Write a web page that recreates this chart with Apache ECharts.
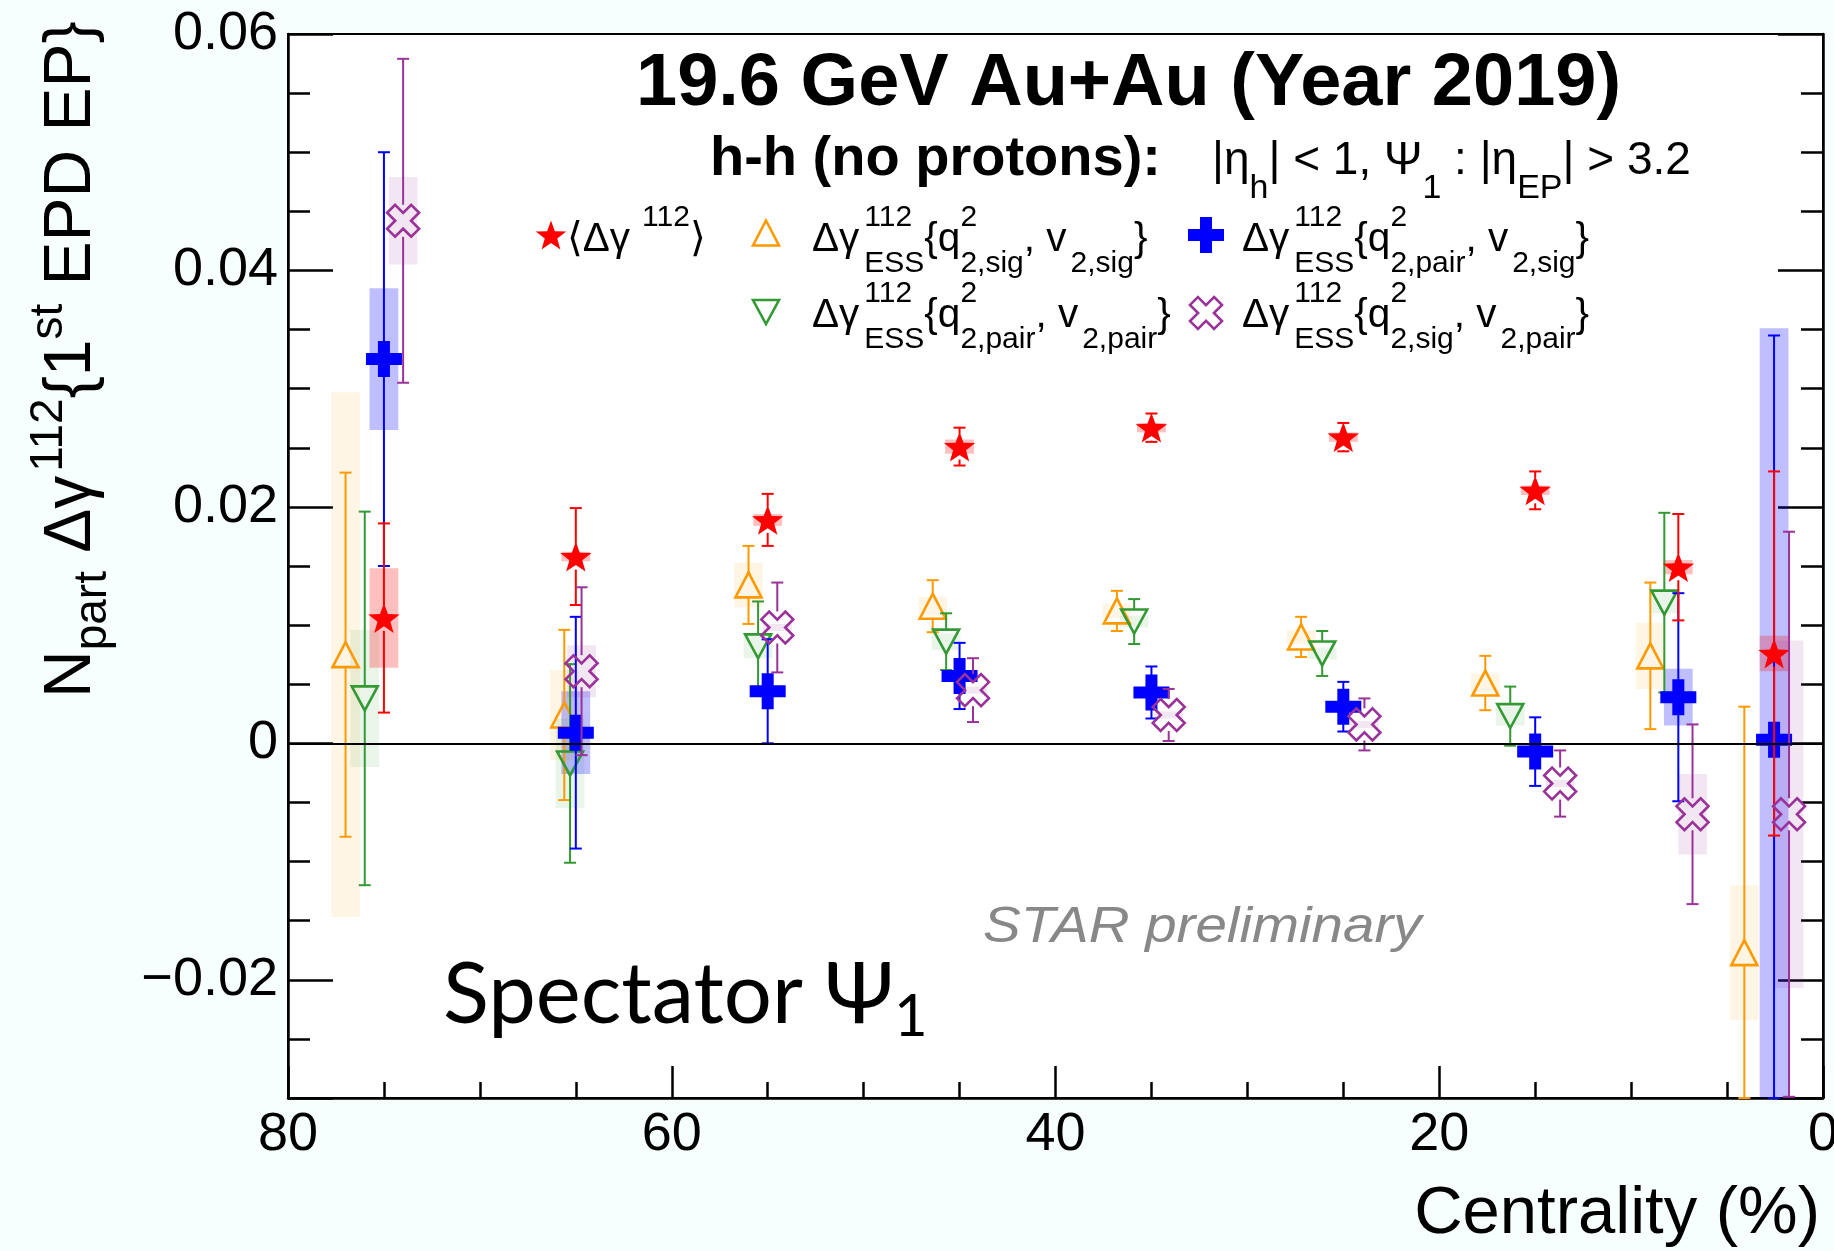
<!DOCTYPE html>
<html>
<head>
<meta charset="utf-8">
<title>STAR 19.6 GeV Au+Au — N_part Δγ112 vs centrality</title>
<script src="https://cdn.jsdelivr.net/npm/echarts@6/dist/echarts.min.js"></script>
<style>
  html, body { margin: 0; padding: 0; background: #f7fefe; }
  #chart { width: 1834px; height: 1251px; }
</style>
</head>
<body>
<div id="chart"></div>
<script>
// ---------------------------------------------------------------
// Data: centrality position (%), value, stat. error, syst. error
// ---------------------------------------------------------------

// <Δγ112> (inclusive)
const inclX    = [2.55, 7.54, 15, 25, 35, 45, 55, 65, 75];
const inclY    = [0.0076, 0.0149, 0.0214, 0.0259, 0.0267, 0.0251, 0.0189, 0.0158, 0.0106];
const inclStat = [0.0154, 0.0045, 0.0016, 0.0012, 0.0012, 0.0016, 0.0022, 0.0041, 0.0080];
const inclSys  = [0.0015, 0.0006, 0.0004, 0.0004, 0.0004, 0.0006, 0.0005, 0.0004, 0.0042];

// Δγ112_ESS{q2_2,sig, v2,sig}
const sigSigX    = [4.1, 9.0, 17.6, 27.2, 36.8, 46.4, 56.0, 65.6, 77.0];
const sigSigY    = [-0.0177, 0.0074, 0.0051, 0.0090, 0.0112, 0.0116, 0.0134, 0.0024, 0.0075];
const sigSigStat = [0.0208, 0.0062, 0.0023, 0.0017, 0.0017, 0.0022, 0.0033, 0.0072, 0.0154];
const sigSigSys  = [0.0057, 0.0028, 0.0008, 0.0006, 0.0006, 0.0008, 0.0019, 0.0038, 0.0222];

// Δγ112_ESS{q2_2,pair, v2,pair}
const pairPairX    = [8.27, 16.3, 26.1, 35.9, 45.7, 55.5, 65.3, 76.0];
const pairPairY    = [0.0119, 0.0023, 0.0076, 0.0103, 0.0086, 0.0082, -0.0017, 0.0038];
const pairPairStat = [0.0076, 0.0025, 0.0019, 0.0019, 0.0024, 0.0038, 0.0084, 0.0158];
const pairPairSys  = [0.0009, 0.0008, 0.0005, 0.0005, 0.0007, 0.0010, 0.0038, 0.0058];

// Δγ112_ESS{q2_2,pair, v2,sig}
const pairSigX    = [2.55, 7.54, 15, 25, 35, 45, 55, 65, 75];
const pairSigY    = [0.0003, 0.0039, -0.0007, 0.0031, 0.0043, 0.0057, 0.0044, 0.0009, 0.0325];
const pairSigStat = [0.0342, 0.0088, 0.0029, 0.0021, 0.0022, 0.0028, 0.0044, 0.0098, 0.0175];
const pairSigSys  = [0.0348, 0.0024, 0.0003, 0.0003, 0.0003, 0.0003, 0.0003, 0.0035, 0.0060];

// Δγ112_ESS{q2_2,sig, v2,pair}
const sigPairX    = [1.77, 6.8, 13.7, 23.9, 34.1, 44.3, 54.5, 64.7, 74.0];
const sigPairY    = [-0.0060, -0.0060, -0.0034, 0.0016, 0.0024, 0.0045, 0.0098, 0.0061, 0.0442];
const sigPairStat = [0.0239, 0.0076, 0.0028, 0.0022, 0.0022, 0.0027, 0.0038, 0.0071, 0.0137];
const sigPairSys  = [0.0147, 0.0034, 0.0003, 0.0003, 0.0003, 0.0003, 0.0003, 0.0022, 0.0037];

// Axis ranges and tick steps
const X_MIN = 0, X_MAX = 80, X_MINOR = 5, X_MAJOR = 20;
const Y_MIN = -0.03, Y_MAX = 0.06, Y_MINOR = 0.005, Y_MAJOR = 0.02;

// ---------------------------------------------------------------
// Styling
// ---------------------------------------------------------------
const SANS = '"Liberation Sans", Arial, Helvetica, "DejaVu Sans", sans-serif';
const HUMANIST = 'Lato, "Open Sans", "Noto Sans", "DejaVu Sans", sans-serif';
const BOX_HALF_WIDTH = 0.75;   // systematic box half width, in centrality units
const CAP = 6;                 // error bar cap half width, px

const C_RED = '#ff0000', C_ORANGE = '#ff9900', C_GREEN = '#339933', C_BLUE = '#0000ff', C_PURPLE = '#993399';

// ---------------------------------------------------------------
// Marker shapes (pixel geometry around a centre)
// ---------------------------------------------------------------
function starShape(cx, cy, color, R) {
  R = R || 16.5;
  const r = R * 0.41, pts = [];
  const oy = cy + 0.0955 * R;   // centre the bounding box on the point
  for (let i = 0; i < 10; i++) {
    const a = -Math.PI / 2 + i * Math.PI / 5, rr = (i % 2) ? r : R;
    pts.push([cx + rr * Math.cos(a), oy + rr * Math.sin(a)]);
  }
  return { type: 'polygon', shape: { points: pts }, style: { fill: color } };
}
function triUpShape(cx, cy, color) {
  const w = 26, h = 25;
  return { type: 'polygon', shape: { points: [[cx, cy - h / 2], [cx + w / 2, cy + h / 2], [cx - w / 2, cy + h / 2]] },
           style: { fill: 'none', stroke: color, lineWidth: 2.6, lineJoin: 'miter' } };
}
function triDownShape(cx, cy, color) {
  const w = 26, h = 24;
  return { type: 'polygon', shape: { points: [[cx - w / 2, cy - h / 2], [cx + w / 2, cy - h / 2], [cx, cy + h / 2]] },
           style: { fill: 'none', stroke: color, lineWidth: 2.6, lineJoin: 'miter' } };
}
function crossPts(a, L) {
  return [[-a, -L], [a, -L], [a, -a], [L, -a], [L, a], [a, a], [a, L], [-a, L], [-a, a], [-L, a], [-L, -a], [-a, -a]];
}
function plusShape(cx, cy, color) {
  const pts = crossPts(6, 18).map(p => [cx + p[0], cy + p[1]]);
  return { type: 'polygon', shape: { points: pts }, style: { fill: color } };
}
function openXShape(cx, cy, color) {
  const s = Math.SQRT1_2;
  const pts = crossPts(5.6, 17).map(p => [cx + (p[0] - p[1]) * s, cy + (p[0] + p[1]) * s]);
  return { type: 'polygon', shape: { points: pts }, style: { fill: 'none', stroke: color, lineWidth: 2.6, lineJoin: 'miter' } };
}

const MARK = {
  star:  { shape: starShape,    half: 13 },
  up:    { shape: triUpShape,   half: 12.5 },
  down:  { shape: triDownShape, half: 12 },
  plus:  { shape: plusShape,    half: 17 },
  openX: { shape: openXShape,   half: 16 }
};

// ---------------------------------------------------------------
// Series builders: systematic boxes + points with stat. error bars
// ---------------------------------------------------------------
function rows(xs, ys, stat, sys) {
  return xs.map((x, i) => [x, ys[i], stat[i], sys[i]]);
}
function boxSeries(name, data, fill, z) {
  return {
    type: 'custom', name: name + ' (syst.)', data, z, silent: true,
    renderItem: function (params, api) {
      const x = api.value(0), y = api.value(1), s = api.value(3);
      const hi = Math.min(y + s, Y_MAX), lo = Math.max(y - s, Y_MIN);
      const p1 = api.coord([x - BOX_HALF_WIDTH, hi]);
      const p2 = api.coord([x + BOX_HALF_WIDTH, lo]);
      return {
        type: 'rect',
        shape: { x: Math.min(p1[0], p2[0]), y: p1[1], width: Math.abs(p2[0] - p1[0]), height: p2[1] - p1[1] },
        style: { fill }
      };
    }
  };
}
function pointSeries(name, data, color, mark, z) {
  return {
    type: 'custom', name, data, z, silent: true,
    renderItem: function (params, api) {
      const x = api.value(0), y = api.value(1), e = api.value(2);
      const c = api.coord([x, y]);
      const yt = api.coord([x, Math.min(y + e, Y_MAX)])[1];
      const yb = api.coord([x, Math.max(y - e, Y_MIN)])[1];
      const ls = { stroke: color, lineWidth: 2 };
      const g = mark.half, kids = [];
      if (c[1] - g > yt) kids.push({ type: 'line', shape: { x1: c[0], y1: yt, x2: c[0], y2: c[1] - g }, style: ls });
      if (yb > c[1] + g) kids.push({ type: 'line', shape: { x1: c[0], y1: c[1] + g, x2: c[0], y2: yb }, style: ls });
      kids.push({ type: 'line', shape: { x1: c[0] - CAP, y1: yt, x2: c[0] + CAP, y2: yt }, style: ls });
      kids.push({ type: 'line', shape: { x1: c[0] - CAP, y1: yb, x2: c[0] + CAP, y2: yb }, style: ls });
      kids.push(mark.shape(c[0], c[1], color));
      return { type: 'group', children: kids };
    }
  };
}

// ---------------------------------------------------------------
// Text with super/subscripts, laid out piece by piece
// ---------------------------------------------------------------
const mctx = document.createElement('canvas').getContext('2d');
function cssFont(size, o) {
  return (o.italic ? 'italic ' : '') + (o.bold ? 'bold ' : '') + size + 'px ' + (o.family || SANS);
}
function textWidth(text, size, o) {
  mctx.font = cssFont(size, o); mctx.textBaseline = 'alphabetic';
  return mctx.measureText(text).width;
}
function middleAboveBaseline(size, o) {
  mctx.font = cssFont(size, o);
  mctx.textBaseline = 'alphabetic';
  const a = mctx.measureText('H').fontBoundingBoxAscent;
  mctx.textBaseline = 'middle';
  const b = mctx.measureText('H').fontBoundingBoxAscent;
  mctx.textBaseline = 'alphabetic';
  const d = a - b;
  return isFinite(d) ? d : 0.34 * size;
}
// pieces: {t} normal text, {sup}/{sub} (stacked when both given), {gap} extra space in px
function formula(x0, base, pieces, o) {
  const els = [];
  let x = x0;
  function put(text, size, b) {
    els.push({
      type: 'text', x: x, y: b - middleAboveBaseline(size, o), silent: true,
      style: {
        text, fontSize: size, fontFamily: o.family || SANS,
        fontWeight: o.bold ? 'bold' : 'normal', fontStyle: o.italic ? 'italic' : 'normal',
        fill: o.color || '#000', textAlign: 'left', textVerticalAlign: 'middle', verticalAlign: 'middle'
      }
    });
    return textWidth(text, size, o);
  }
  for (const p of pieces) {
    if (p.gap) { x += p.gap; continue; }
    if (p.t != null) { x += put(p.t, o.size, base); continue; }
    let w = 0;
    if (p.sup != null) w = Math.max(w, put(p.sup, o.sub, base - o.rise));
    if (p.sub != null) w = Math.max(w, put(p.sub, o.sub, base + o.drop));
    x += w;
  }
  return els;
}

// ---------------------------------------------------------------
// Annotations: titles, legend, axis titles
// ---------------------------------------------------------------
const LEG = { size: 40.5, sub: 30, rise: 25, drop: 21 };
function essLabel(q, v) {
  return [{ t: 'Δγ' }, { gap: 5 }, { sup: '112', sub: 'ESS' }, { t: '{q' }, { sup: '2', sub: '2,' + q }, { t: ', v' },
          { gap: 4 }, { sub: '2,' + v }, { t: '}' }];
}

const graphics = [];
// Title lines
graphics.push({ type: 'group', children: formula(636, 105, [{ t: '19.6 GeV Au+Au (Year 2019)' }], { size: 74, bold: true }) });
graphics.push({ type: 'group', children: formula(710, 175, [{ t: 'h-h (no protons):' }], { size: 56, bold: true }) });
graphics.push({ type: 'group', children: formula(1212, 174, [
  { t: '|η' }, { sub: 'h' }, { t: '| < 1, Ψ' }, { sub: '1' }, { t: ' : |η' }, { sub: 'EP' }, { t: '| > 3.2' }
], { size: 46, sub: 34, rise: 20, drop: 24 }) });

// Legend
graphics.push(starShape(551, 235, C_RED, 16));
graphics.push({ type: 'group', children: formula(567, 251, [{ t: '⟨Δγ' }, { gap: 12 }, { sup: '112' }, { t: '⟩' }], LEG) });
graphics.push(triUpShape(766, 233, C_ORANGE));
graphics.push({ type: 'group', children: formula(812, 251, essLabel('sig', 'sig'), LEG) });
graphics.push(plusShape(1206, 235, C_BLUE));
graphics.push({ type: 'group', children: formula(1242, 251, essLabel('pair', 'sig'), LEG) });
graphics.push(triDownShape(766, 312, C_GREEN));
graphics.push({ type: 'group', children: formula(812, 327, essLabel('pair', 'pair'), LEG) });
graphics.push(openXShape(1206, 313, C_PURPLE));
graphics.push({ type: 'group', children: formula(1242, 327, essLabel('sig', 'pair'), LEG) });

// Preliminary tag (slightly widened lettering) and event-plane label
graphics.push({ type: 'group', x: 983, scaleX: 1.13,
  children: formula(0, 942, [{ t: 'STAR preliminary' }], { size: 50, italic: true, color: '#888888' }) });
graphics.push({ type: 'group', children: formula(443, 1023, [{ t: 'Spectator Ψ' }, { sub: '1' }], { size: 85, sub: 58, rise: 0, drop: 13, family: HUMANIST }) });

// Axis titles
const xTitle = formula(0, 1233, [{ t: 'Centrality (%)' }], { size: 67 });
const xTitleW = textWidth('Centrality (%)', 67, {});
xTitle.forEach(e => { e.x += 1820 - xTitleW; });
graphics.push({ type: 'group', children: xTitle });
graphics.push({
  type: 'group', x: 90, y: 698, rotation: Math.PI / 2,
  children: formula(0, 0, [
    { t: 'N' }, { sub: 'part' }, { t: ' Δγ' }, { gap: 4 }, { sup: '112' }, { t: '{1' }, { sup: 'st' }, { t: ' EPD EP}' }
  ], { size: 66, sub: 46, rise: 28, drop: 16 })
});

// ---------------------------------------------------------------
// Axes
// ---------------------------------------------------------------
const isMultiple = (v, step) => Math.abs(v / step - Math.round(v / step)) < 1e-6;
const yLabel = v => {
  if (!isMultiple(v, Y_MAJOR) || v < Y_MIN + 1e-9) return '';
  if (Math.abs(v) < 1e-9) return '0';
  return (v < 0 ? '\u2212' : '') + Math.abs(v).toFixed(2);
};
const AX_LINE = { show: true, onZero: false, lineStyle: { color: '#000', width: 2.5 } };
const NO_LINE = { show: false, onZero: false };
const TICK_STYLE = { color: '#000', width: 2.5 };
const LABEL_FONT = 54;

const xAxes = [
  { type: 'value', min: X_MIN, max: X_MAX, interval: X_MINOR, inverse: true, position: 'bottom',
    axisLine: AX_LINE, splitLine: { show: false },
    axisTick: { show: true, inside: true, length: 16, lineStyle: TICK_STYLE },
    axisLabel: { show: true, margin: 10, fontSize: LABEL_FONT, fontFamily: SANS, color: '#000',
                 showMinLabel: true, showMaxLabel: true,
                 formatter: v => isMultiple(v, X_MAJOR) ? String(v) : '' } },
  { type: 'value', min: X_MIN, max: X_MAX, interval: X_MAJOR, inverse: true, position: 'bottom',
    axisLine: NO_LINE, splitLine: { show: false }, axisLabel: { show: false },
    axisTick: { show: true, inside: true, length: 32, lineStyle: TICK_STYLE } }
];
const yAxes = [
  { type: 'value', min: Y_MIN, max: Y_MAX, interval: Y_MINOR, position: 'left',
    axisLine: AX_LINE, splitLine: { show: false },
    axisTick: { show: true, inside: true, length: 22, lineStyle: TICK_STYLE },
    axisLabel: { show: true, margin: 10, fontSize: LABEL_FONT, fontFamily: SANS, color: '#000',
                 showMinLabel: true, showMaxLabel: true, formatter: yLabel } },
  { type: 'value', min: Y_MIN, max: Y_MAX, minInterval: Y_MAJOR, maxInterval: Y_MAJOR, position: 'left',
    axisLine: NO_LINE, splitLine: { show: false }, axisLabel: { show: false },
    axisTick: { show: true, inside: true, length: 45, lineStyle: TICK_STYLE } },
  { type: 'value', min: Y_MIN, max: Y_MAX, interval: Y_MINOR, position: 'right',
    axisLine: AX_LINE, splitLine: { show: false }, axisLabel: { show: false },
    axisTick: { show: true, inside: true, length: 22, lineStyle: TICK_STYLE } },
  { type: 'value', min: Y_MIN, max: Y_MAX, minInterval: Y_MAJOR, maxInterval: Y_MAJOR, position: 'right',
    axisLine: NO_LINE, splitLine: { show: false }, axisLabel: { show: false },
    axisTick: { show: true, inside: true, length: 45, lineStyle: TICK_STYLE } }
];

// ---------------------------------------------------------------
// Series (boxes below, points above; drawing order as in the legend)
// ---------------------------------------------------------------
const dIncl = rows(inclX, inclY, inclStat, inclSys);
const dSigSig = rows(sigSigX, sigSigY, sigSigStat, sigSigSys);
const dPairPair = rows(pairPairX, pairPairY, pairPairStat, pairPairSys);
const dPairSig = rows(pairSigX, pairSigY, pairSigStat, pairSigSys);
const dSigPair = rows(sigPairX, sigPairY, sigPairStat, sigPairSys);

const series = [
  { type: 'line', name: 'zero', data: [], z: 1, silent: true,
    markLine: { silent: true, symbol: 'none', label: { show: false },
                lineStyle: { color: '#000', width: 2, type: 'solid' }, data: [{ yAxis: 0 }] } },
  boxSeries('sig,sig', dSigSig, 'rgba(255,153,0,0.10)', 2),
  boxSeries('pair,pair', dPairPair, 'rgba(51,153,51,0.10)', 2),
  boxSeries('pair,sig', dPairSig, 'rgba(0,0,255,0.25)', 2),
  boxSeries('incl', dIncl, 'rgba(255,0,0,0.25)', 2),
  boxSeries('sig,pair', dSigPair, 'rgba(153,51,153,0.12)', 2),
  pointSeries('sig,sig', dSigSig, C_ORANGE, MARK.up, 3),
  pointSeries('pair,pair', dPairPair, C_GREEN, MARK.down, 3),
  pointSeries('pair,sig', dPairSig, C_BLUE, MARK.plus, 3),
  pointSeries('incl', dIncl, C_RED, MARK.star, 3),
  pointSeries('sig,pair', dSigPair, C_PURPLE, MARK.openX, 3)
];

const chart = echarts.init(document.getElementById('chart'), null, { renderer: 'canvas', width: 1834, height: 1251 });
chart.setOption({
  animation: false,
  backgroundColor: '#f7fefe',
  grid: { left: 288, right: 11, top: 34, bottom: 153, show: true, backgroundColor: '#ffffff',
          borderColor: '#000', borderWidth: 2, containLabel: false, outerBoundsMode: 'none' },
  xAxis: xAxes,
  yAxis: yAxes,
  series,
  graphic: { elements: graphics }
});
</script>
</body>
</html>
